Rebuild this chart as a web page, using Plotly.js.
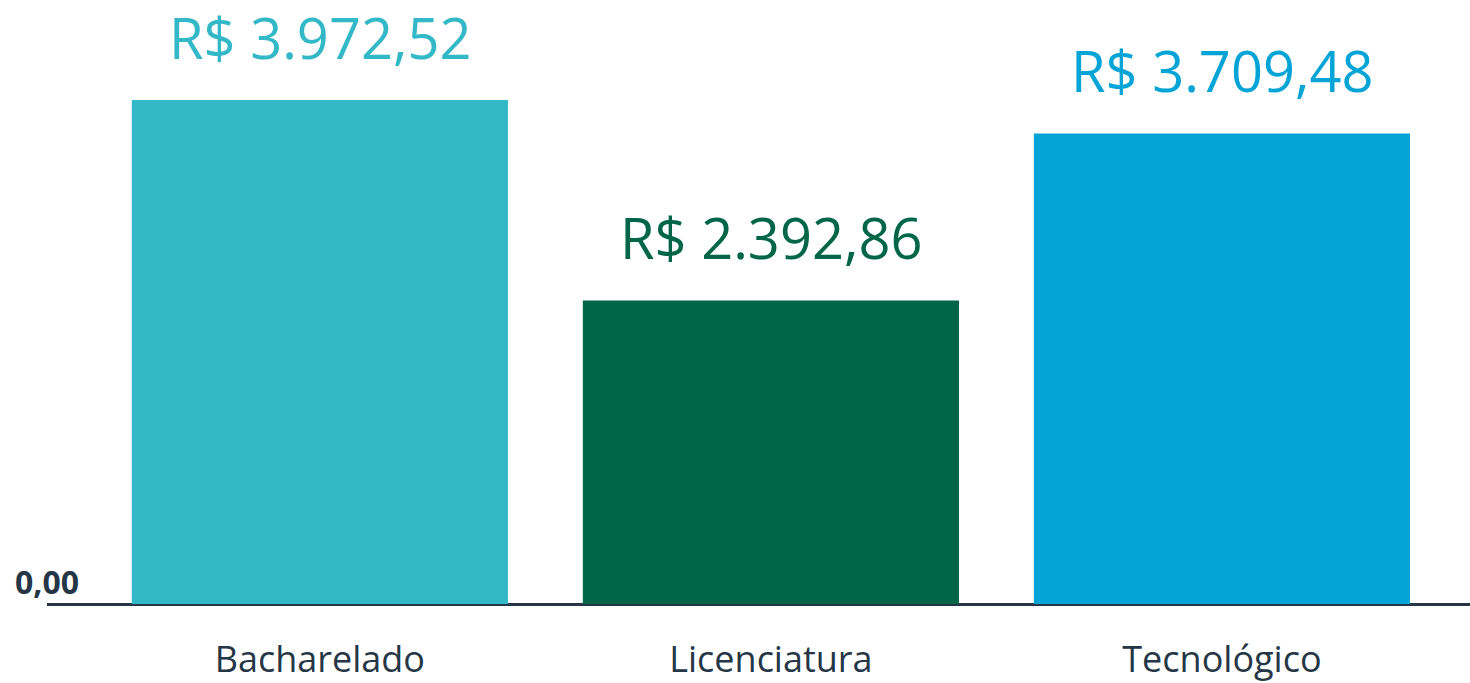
<!DOCTYPE html>
<html>
<head>
<meta charset="utf-8">
<script src="https://cdn.plot.ly/plotly-3.0.1.min.js"></script>
<style>html,body{margin:0;padding:0;background:#fff;}#chart{width:1470px;height:683px;}</style>
</head>
<body>
<div id="chart"></div>
<script>
const categories = ["Bacharelado", "Licenciatura", "Tecnológico"];
const values = [3972.52, 2392.86, 3709.48];
const valueLabels = ["R$ 3.972,52", "R$ 2.392,86", "R$ 3.709,48"];
const barColors = ["#32B8C6", "#006647", "#05A4D7"];
const yTickValues = [0];
const yTickLabels = ["0,00"];

const FONT = "Open Sans, sans-serif";
const DARK = "#253746";

const trace = {
  type: "bar",
  x: categories,
  y: values,
  marker: {color: barColors},
  width: 0.834,
  hoverinfo: "none"
};

const annotations = values.map((v, i) => ({
  x: categories[i], y: v, xref: "x", yref: "y",
  text: valueLabels[i], showarrow: false,
  yanchor: "middle", yshift: 63,
  font: {family: FONT, size: 56, color: barColors[i]}
}));
yTickValues.forEach((t, i) => annotations.push({
  x: 0, xref: "paper", y: t, yref: "y",
  text: "<b>" + yTickLabels[i] + "</b>", showarrow: false,
  xanchor: "left", yanchor: "middle", xshift: -34, yshift: 23,
  font: {family: FONT, size: 32, color: DARK}
}));

const layout = {
  width: 1470, height: 683,
  margin: {l: 47, r: 0, t: 0, b: 79},
  paper_bgcolor: "#fff", plot_bgcolor: "#fff",
  showlegend: false,
  xaxis: {
    type: "category",
    range: [-0.605, 2.55],
    showgrid: false, zeroline: false,
    showline: false, ticks: "",
    tickfont: {family: FONT, size: 36, color: DARK},
    ticklabelstandoff: 31
  },
  yaxis: {
    range: [0, 4761],
    showgrid: false, zeroline: true, zerolinecolor: DARK, zerolinewidth: 3,
    showticklabels: false, showline: false, ticks: ""
  },
  annotations: annotations
};

Plotly.newPlot("chart", [trace], layout, {staticPlot: true});
</script>
</body>
</html>
